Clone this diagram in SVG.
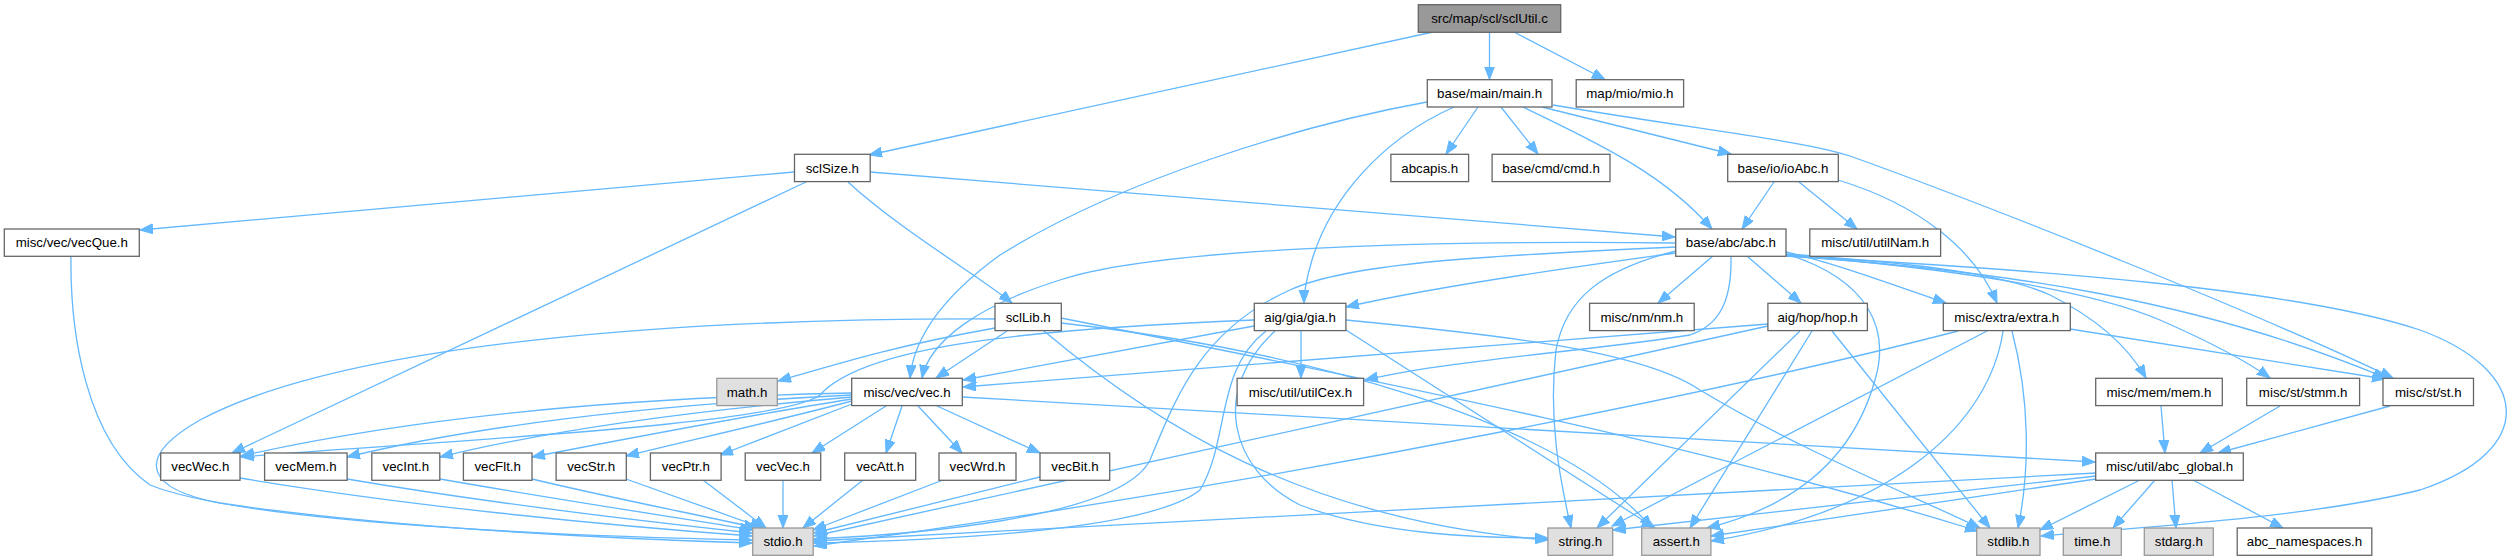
<svg xmlns="http://www.w3.org/2000/svg" width="2516" height="560" viewBox="0 0 2516 560">
<defs>
<style>
.n rect{fill:#fff;stroke:#666;stroke-width:1.3}
.g rect{fill:#e0e0e0;stroke:#999;stroke-width:1.3}
.r rect{fill:#999;stroke:#666;stroke-width:1.3}
text{font-family:"Liberation Sans",Arial,Helvetica,sans-serif;font-size:13.3px;text-anchor:middle;fill:#000}
#edges path{fill:none;stroke:#63b8ff;stroke-width:1.3;marker-end:url(#a)}
</style>
<marker id="a" markerUnits="userSpaceOnUse" markerWidth="14" markerHeight="11" refX="13" refY="5" orient="auto">
<path d="M0,0 L13,5 L0,10 z" fill="#63b8ff" stroke="#63b8ff" stroke-width="1"/>
</marker>
</defs>
<rect width="2516" height="560" fill="#fff"/>
<g id="edges">
<path d="M1433,32 L869,155"/>
<path d="M1489.5,32 L1489.5,79.5"/>
<path d="M1514,32 L1605,79.5"/>
<path d="M1427,102 C1300,125 1120,180 1000,255 C945,295 914,335 910,378"/>
<path d="M1454,107 C1380,140 1330,200 1312,260 C1306,280 1304,292 1304,303"/>
<path d="M1478,107 L1446,154"/>
<path d="M1501,107 L1538,154"/>
<path d="M1523,107 C1590,140 1660,170 1712,229"/>
<path d="M1542,107 L1731,154"/>
<path d="M1553,105 C1700,130 1800,140 1850,156 C2000,210 2250,310 2393,378"/>
<path d="M794,172 L140,230"/>
<path d="M806,182 L232,453"/>
<path d="M870,172 L1675,237"/>
<path d="M848,182 C900,230 985,280 1012,303"/>
<path d="M1774,182 L1742,229"/>
<path d="M1799,182 L1857,229"/>
<path d="M1838,180 C1920,205 1975,250 1997,303"/>
<path d="M71,256 C70,330 85,440 150,485 C250,525 600,537 752,540"/>
<path d="M1676,243 C1400,240 1150,250 1060,280 C980,305 930,340 922,378"/>
<path d="M1676,253 C1550,270 1420,290 1346,307"/>
<path d="M1713,256 L1658,303"/>
<path d="M1747,256 L1801,303"/>
<path d="M1786,252 C1830,262 1880,280 1946,303"/>
<path d="M1786,254 C1900,262 2000,272 2050,295 C2100,320 2130,350 2146,378"/>
<path d="M1786,255 C1950,268 2090,290 2160,320 C2210,342 2245,360 2270,378"/>
<path d="M1786,256 C2000,270 2200,300 2386,378"/>
<path d="M1676,247 C1500,255 1350,262 1290,290 C1200,330 1175,400 1150,460 C1120,520 900,535 814,539"/>
<path d="M1676,251 C1600,270 1565,300 1556,350 C1548,420 1560,480 1571,528"/>
<path d="M1786,254 C1870,280 1890,330 1875,380 C1850,470 1780,510 1707,528"/>
<path d="M1786,256 C2050,270 2300,290 2420,330 C2530,370 2540,450 2420,490 C2300,520 2100,530 2041,536"/>
<path d="M1731,256 C1732,300 1720,325 1690,335 C1600,350 1450,360 1365,380"/>
<path d="M995,328 C900,345 850,360 778,381"/>
<path d="M995,319 C700,318 350,340 200,420 C130,460 150,490 220,503 C400,530 650,540 752,543"/>
<path d="M1044,331 C1150,420 1300,520 1548,540"/>
<path d="M1007,331 L936,378"/>
<path d="M1061,323 C1300,350 1560,420 1652,528"/>
<path d="M1061,318 C1400,385 1700,445 1978,531"/>
<path d="M1254,326 L963,380"/>
<path d="M1254,320 C1000,330 860,350 820,395 C780,425 450,440 241,457"/>
<path d="M1301,331 L1301,378"/>
<path d="M1266,331 C1215,370 1230,440 1200,490 C1150,530 950,540 814,543"/>
<path d="M1275,331 C1210,390 1230,470 1300,505 C1380,535 1480,538 1548,538"/>
<path d="M1346,330 L1655,528"/>
<path d="M1346,320 C1500,335 1640,350 1700,390 C1800,450 1900,490 1980,528"/>
<path d="M1768,324 L963,387"/>
<path d="M1768,326 L814,536"/>
<path d="M1800,331 L1597,528"/>
<path d="M1812,331 L1690,528"/>
<path d="M1832,331 L1990,528"/>
<path d="M2070,329 L2385,379"/>
<path d="M1958,331 C1750,385 1300,480 814,546"/>
<path d="M1987,331 L1612,526"/>
<path d="M2003,331 C1990,420 1900,510 1711,541"/>
<path d="M2012,331 C2030,400 2030,470 2018,528"/>
<path d="M937,406 L1040,453"/>
<path d="M918,406 L962,453"/>
<path d="M902,406 L886,453"/>
<path d="M886,406 L812,453"/>
<path d="M852,404 L720,455"/>
<path d="M852,401 C780,420 700,438 626,456"/>
<path d="M852,399 C750,415 620,440 532,457"/>
<path d="M852,397 C700,410 550,430 440,457"/>
<path d="M852,395 C650,405 480,425 347,457"/>
<path d="M852,393 C600,398 400,420 241,456"/>
<path d="M962,397 L2095,462"/>
<path d="M240,478 C400,505 600,525 752,536"/>
<path d="M347,479 C500,505 650,522 752,533"/>
<path d="M440,479 C560,500 680,518 753,530"/>
<path d="M532,479 C620,500 700,515 757,528"/>
<path d="M626,479 L763,528"/>
<path d="M703,480 L766,528"/>
<path d="M783,480 L783,528"/>
<path d="M863,480 L803,528"/>
<path d="M943,480 L813,530"/>
<path d="M1040,477 L814,533"/>
<path d="M2096,473 L814,541"/>
<path d="M2096,476 L1613,530"/>
<path d="M2096,479 L1711,536"/>
<path d="M2140,480 L2040,530"/>
<path d="M2155,480 L2113,528"/>
<path d="M2172,480 L2176,528"/>
<path d="M2193,480 L2283,528"/>
<path d="M2161,406 L2165,453"/>
<path d="M2280,406 L2200,453"/>
<path d="M2390,406 L2218,453"/>
</g>
<g id="sclUtil_c" class="r"><rect x="1418.3" y="4.7" width="142.4" height="27.6"/><text x="1489.5" y="23.2">src/map/scl/sclUtil.c</text></g>
<g id="main_h" class="n"><rect x="1427.3" y="79.7" width="124.7" height="27.3"/><text x="1489.6" y="98">base/main/main.h</text></g>
<g id="mio_h" class="n"><rect x="1576.2" y="79.7" width="107.4" height="27.3"/><text x="1629.9" y="98">map/mio/mio.h</text></g>
<g id="sclSize_h" class="n"><rect x="794.5" y="154.3" width="75.7" height="27.3"/><text x="832.3" y="172.6">sclSize.h</text></g>
<g id="abcapis_h" class="n"><rect x="1390.9" y="154.3" width="77.7" height="27.3"/><text x="1429.7" y="172.6">abcapis.h</text></g>
<g id="cmd_h" class="n"><rect x="1492.1" y="154.3" width="117.9" height="27.3"/><text x="1551" y="172.6">base/cmd/cmd.h</text></g>
<g id="ioAbc_h" class="n"><rect x="1727.7" y="154.3" width="110.6" height="27.3"/><text x="1783" y="172.6">base/io/ioAbc.h</text></g>
<g id="vecQue_h" class="n"><rect x="4.3" y="229" width="135" height="27.3"/><text x="71.8" y="247.3">misc/vec/vecQue.h</text></g>
<g id="abc_h" class="n"><rect x="1675.7" y="229" width="110.3" height="27.3"/><text x="1730.9" y="247.3">base/abc/abc.h</text></g>
<g id="utilNam_h" class="n"><rect x="1809.8" y="229" width="130.8" height="27.3"/><text x="1875.2" y="247.3">misc/util/utilNam.h</text></g>
<g id="sclLib_h" class="n"><rect x="995" y="303.3" width="66.3" height="27.3"/><text x="1028.2" y="321.6">sclLib.h</text></g>
<g id="gia_h" class="n"><rect x="1254.3" y="303.3" width="91.6" height="27.3"/><text x="1300.1" y="321.6">aig/gia/gia.h</text></g>
<g id="nm_h" class="n"><rect x="1589.6" y="303.3" width="104.6" height="27.3"/><text x="1641.9" y="321.6">misc/nm/nm.h</text></g>
<g id="hop_h" class="n"><rect x="1767.9" y="303.3" width="99.5" height="27.3"/><text x="1817.7" y="321.6">aig/hop/hop.h</text></g>
<g id="extra_h" class="n"><rect x="1943.3" y="303.3" width="127" height="27.3"/><text x="2006.8" y="321.6">misc/extra/extra.h</text></g>
<g id="math_h" class="g"><rect x="716.8" y="378.3" width="60.5" height="27.3"/><text x="747" y="396.6">math.h</text></g>
<g id="vec_h" class="n"><rect x="851.7" y="378.3" width="110.6" height="27.3"/><text x="907" y="396.6">misc/vec/vec.h</text></g>
<g id="utilCex_h" class="n"><rect x="1237.1" y="378.3" width="126.5" height="27.3"/><text x="1300.4" y="396.6">misc/util/utilCex.h</text></g>
<g id="mem_h" class="n"><rect x="2095.7" y="378.3" width="126.6" height="27.3"/><text x="2159" y="396.6">misc/mem/mem.h</text></g>
<g id="stmm_h" class="n"><rect x="2246.7" y="378.3" width="112.9" height="27.3"/><text x="2303.2" y="396.6">misc/st/stmm.h</text></g>
<g id="st_h" class="n"><rect x="2383" y="378.3" width="90.5" height="27.3"/><text x="2428.3" y="396.6">misc/st/st.h</text></g>
<g id="vecWec_h" class="n"><rect x="160.7" y="453" width="79.3" height="27.3"/><text x="200.4" y="471.3">vecWec.h</text></g>
<g id="vecMem_h" class="n"><rect x="264.6" y="453" width="82.5" height="27.3"/><text x="305.9" y="471.3">vecMem.h</text></g>
<g id="vecInt_h" class="n"><rect x="371.8" y="453" width="68" height="27.3"/><text x="405.8" y="471.3">vecInt.h</text></g>
<g id="vecFlt_h" class="n"><rect x="463.4" y="453" width="68.6" height="27.3"/><text x="497.7" y="471.3">vecFlt.h</text></g>
<g id="vecStr_h" class="n"><rect x="556.1" y="453" width="70.2" height="27.3"/><text x="591.2" y="471.3">vecStr.h</text></g>
<g id="vecPtr_h" class="n"><rect x="650.4" y="453" width="70.7" height="27.3"/><text x="685.8" y="471.3">vecPtr.h</text></g>
<g id="vecVec_h" class="n"><rect x="745.2" y="453" width="75.5" height="27.3"/><text x="783" y="471.3">vecVec.h</text></g>
<g id="vecAtt_h" class="n"><rect x="844.7" y="453" width="71" height="27.3"/><text x="880.2" y="471.3">vecAtt.h</text></g>
<g id="vecWrd_h" class="n"><rect x="939" y="453" width="77" height="27.3"/><text x="977.5" y="471.3">vecWrd.h</text></g>
<g id="vecBit_h" class="n"><rect x="1040" y="453" width="69.7" height="27.3"/><text x="1074.9" y="471.3">vecBit.h</text></g>
<g id="abc_global_h" class="n"><rect x="2095.7" y="453" width="147.6" height="27.3"/><text x="2169.5" y="471.3">misc/util/abc_global.h</text></g>
<g id="stdio_h" class="g"><rect x="752.7" y="528" width="60.5" height="27.3"/><text x="783" y="546.3">stdio.h</text></g>
<g id="string_h" class="g"><rect x="1547.9" y="528" width="64.8" height="27.3"/><text x="1580.3" y="546.3">string.h</text></g>
<g id="assert_h" class="g"><rect x="1641.7" y="528" width="69.2" height="27.3"/><text x="1676.3" y="546.3">assert.h</text></g>
<g id="stdlib_h" class="g"><rect x="1976.7" y="528" width="63.3" height="27.3"/><text x="2008.4" y="546.3">stdlib.h</text></g>
<g id="time_h" class="g"><rect x="2063.3" y="528" width="58" height="27.3"/><text x="2092.3" y="546.3">time.h</text></g>
<g id="stdarg_h" class="g"><rect x="2144.3" y="528" width="69" height="27.3"/><text x="2178.8" y="546.3">stdarg.h</text></g>
<g id="abc_namespaces_h" class="n"><rect x="2237.2" y="528" width="134.6" height="27.3"/><text x="2304.5" y="546.3">abc_namespaces.h</text></g>
</svg>
